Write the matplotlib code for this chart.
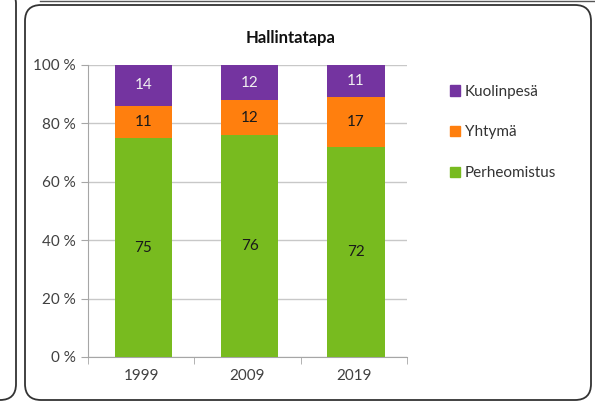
import matplotlib
matplotlib.use("Agg")
import matplotlib.pyplot as plt
import numpy as np
from matplotlib.patches import FancyBboxPatch, Patch

plt.rcParams["font.family"] = ["Lato", "DejaVu Sans"]

vuodet = ["1999", "2009", "2019"]
perheomistus = [75, 76, 72]
yhtyma = [11, 12, 17]
kuolinpesa = [14, 12, 11]
sarjat = ["Perheomistus", "Yhtymä", "Kuolinpesä"]
varit = ["#78BB1F", "#FF7F0E", "#7434A0"]
tekstivarit = ["#1a1a1a", "#1a1a1a", "#f0f0f0"]

fig = plt.figure(figsize=(5.95, 4.05), dpi=100)

# taustan kehykset (pikseleina)
bg = fig.add_axes([0, 0, 1, 1], zorder=-1)
bg.set_xlim(0, 595)
bg.set_ylim(405, 0)
bg.axis("off")
bg.add_patch(FancyBboxPatch((-60, -12), 76, 412, boxstyle="round,pad=0,rounding_size=16",
                            fc="white", ec="#333333", lw=1.3))
bg.add_patch(FancyBboxPatch((25, 5), 566, 395, boxstyle="round,pad=0,rounding_size=16",
                            fc="white", ec="#333333", lw=1.3))
bg.plot([40, 595], [0.6, 0.6], color="#555555", lw=1.0)

ax = fig.add_axes([88 / 595, 1 - 357 / 405, (407 - 88) / 595, (357 - 65) / 405])
x = np.arange(len(vuodet))
pohja = np.zeros(len(vuodet))
for nimi, arvot, vari, tv in zip(sarjat, [perheomistus, yhtyma, kuolinpesa], varit, tekstivarit):
    arvot = np.asarray(arvot, dtype=float)
    ax.bar(x + 0.02, arvot, bottom=pohja, width=0.54, color=vari, zorder=3, label=nimi)
    for xi, b, v in zip(x, pohja, arvot):
        ax.text(xi + 0.02, b + v / 2, f"{int(v)}", ha="center", va="center",
                fontsize=11, color=tv, zorder=4)
    pohja = pohja + arvot

ax.set_xlim(-0.5, 2.5)
ax.set_ylim(0, 100)
ax.set_yticks(np.arange(0, 101, 20))
ax.set_yticklabels([f"{v} %" for v in range(0, 101, 20)], fontsize=11, color="#404040")
ax.set_xticks(x)
ax.set_xticklabels(vuodet, fontsize=11, color="#404040")
ax.set_xticks([-0.5, 0.5, 1.5, 2.5], minor=True)
ax.tick_params(axis="x", which="major", length=0, pad=9)
ax.tick_params(axis="x", which="minor", length=5, color="#a6a6a6", direction="out")
ax.tick_params(axis="y", length=5, color="#a6a6a6", direction="out", pad=4)
ax.grid(axis="y", color="#c8c8c8", lw=1.0, zorder=0)
for s in ["top", "right"]:
    ax.spines[s].set_visible(False)
for s in ["left", "bottom"]:
    ax.spines[s].set_color("#a6a6a6")

fig.text(291 / 595, 1 - 38 / 405, "Hallintatapa", ha="center", va="center",
         fontsize=12, fontweight="bold", color="#111111")

kahvat = [Patch(color=c) for c in varit[::-1]]
fig.legend(kahvat, sarjat[::-1], loc="upper left", bbox_to_anchor=(436 / 595, 1 - 71 / 405),
           frameon=False, fontsize=11, handlelength=0.7, handleheight=0.7,
           handletextpad=0.3, labelspacing=1.75, labelcolor="#333333")

fig.savefig("out.png", dpi=100)
